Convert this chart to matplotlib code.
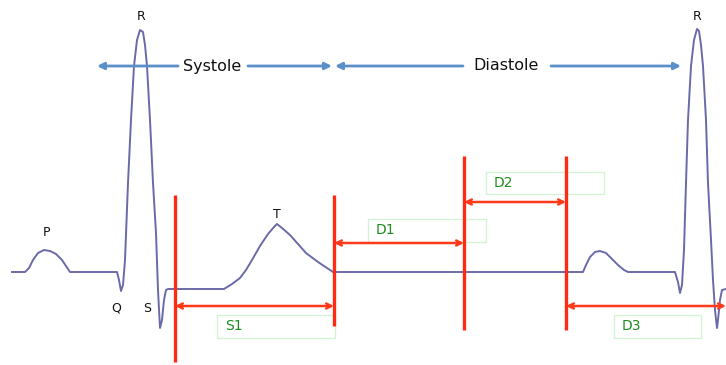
import matplotlib
matplotlib.use("Agg")
import matplotlib.pyplot as plt
from matplotlib.patches import Rectangle

# ECG trace (pixel-like coordinates, y downward)
ecg_x = [12, 25, 29, 33, 38, 44, 50, 56, 62, 70, 117, 119, 121, 123, 125, 128, 131, 134, 137, 140, 143, 145, 147,
         150, 153, 156, 158, 160, 162, 164, 166, 168, 224, 232, 240, 246, 252, 260, 268, 274, 277, 282, 290, 298,
         306, 318, 333, 583, 586, 590, 595, 600, 606, 612, 618, 624, 628, 675, 678, 680, 682, 684, 686, 688, 691,
         694, 697, 699, 701, 703, 706, 708, 711, 713, 715, 717, 718, 720, 722, 726]
ecg_y = [272, 272, 268, 260, 253, 250, 251, 254, 260, 272, 272, 280, 291, 285, 260, 183, 120, 66, 40, 30, 32, 45, 66,
         120, 183, 233, 290, 328, 320, 300, 290, 289, 289, 284, 278, 270, 260, 246, 234, 227, 224, 228, 235, 244,
         253, 262, 272, 272, 265, 257, 252, 251, 253, 259, 265, 270, 272, 272, 282, 293, 285, 250, 183, 120, 66,
         40, 29, 31, 45, 66, 120, 183, 240, 280, 310, 328, 320, 300, 290, 289]

# Wave labels
wave_labels = ["R", "R", "P", "Q", "S", "T"]
wave_lx = [141, 697, 46, 116, 147, 277]
wave_ly = [16, 16, 233, 308, 308, 215]

# Red vertical markers: x, top, bottom
mark_x = [175, 334, 464, 566]
mark_top = [195, 195, 156, 156]
mark_bot = [362, 326, 330, 330]

# Red interval arrows: name, start, end, y
int_names = ["S1", "D1", "D2", "D3"]
int_x0 = [175, 334, 464, 566]
int_x1 = [334, 464, 566, 726]
int_y = [306, 243, 202, 306]
# Label boxes: left, top, right, bottom
box_l = [217, 368, 486, 614]
box_t = [315, 219, 172, 315]
box_r = [335, 486, 604, 701]
box_b = [338, 242, 194, 338]

# Phase arrows
phase_names = ["Systole", "Diastole"]
phase_x0 = [97, 335]
phase_x1 = [332, 681]
phase_tx = [212, 506]
phase_y = 66

fig = plt.figure(figsize=(7.26, 3.65), dpi=100)
ax = fig.add_axes([0, 0, 1, 1])
ax.set_xlim(0, 726)
ax.set_ylim(365, 0)
ax.axis("off")

ax.plot(ecg_x, ecg_y, color="#6b6aa8", lw=1.4, solid_joinstyle="round", zorder=3)

for t, x, y in zip(wave_labels, wave_lx, wave_ly):
    ax.text(x, y, t, ha="center", va="center", fontsize=9, color="#111111")

for x, t, b in zip(mark_x, mark_top, mark_bot):
    ax.plot([x, x], [t, b], color="#ff2a12", lw=2.4, solid_capstyle="butt", zorder=4)

for n, x0, x1, y, l, t, r, b in zip(int_names, int_x0, int_x1, int_y, box_l, box_t, box_r, box_b):
    ax.annotate("", xy=(x1, y), xytext=(x0, y),
                arrowprops=dict(arrowstyle="<->", color="#ff3a1a", lw=1.8, mutation_scale=9,
                                shrinkA=0, shrinkB=0), zorder=5)
    ax.add_patch(Rectangle((l, t), r - l, b - t, fill=False, edgecolor="#d4f2d4", lw=1.0, zorder=2))
    ax.text(l + 8, (t + b) / 2, n, ha="left", va="center", fontsize=10, color="#1e8c1e", zorder=6)

for n, x0, x1, tx in zip(phase_names, phase_x0, phase_x1, phase_tx):
    tw = 34 if n == "Systole" else 43
    ax.annotate("", xy=(x0, phase_y), xytext=(tx - tw, phase_y),
                arrowprops=dict(arrowstyle="-|>", color="#5b8fc8", lw=2.0, mutation_scale=10,
                                shrinkA=0, shrinkB=0), zorder=5)
    ax.annotate("", xy=(x1, phase_y), xytext=(tx + tw + 2, phase_y),
                arrowprops=dict(arrowstyle="-|>", color="#5b8fc8", lw=2.0, mutation_scale=10,
                                shrinkA=0, shrinkB=0), zorder=5)
    ax.text(tx, phase_y, n, ha="center", va="center", fontsize=11.5, color="#111111", zorder=6)

fig.savefig("out.png", dpi=100)
